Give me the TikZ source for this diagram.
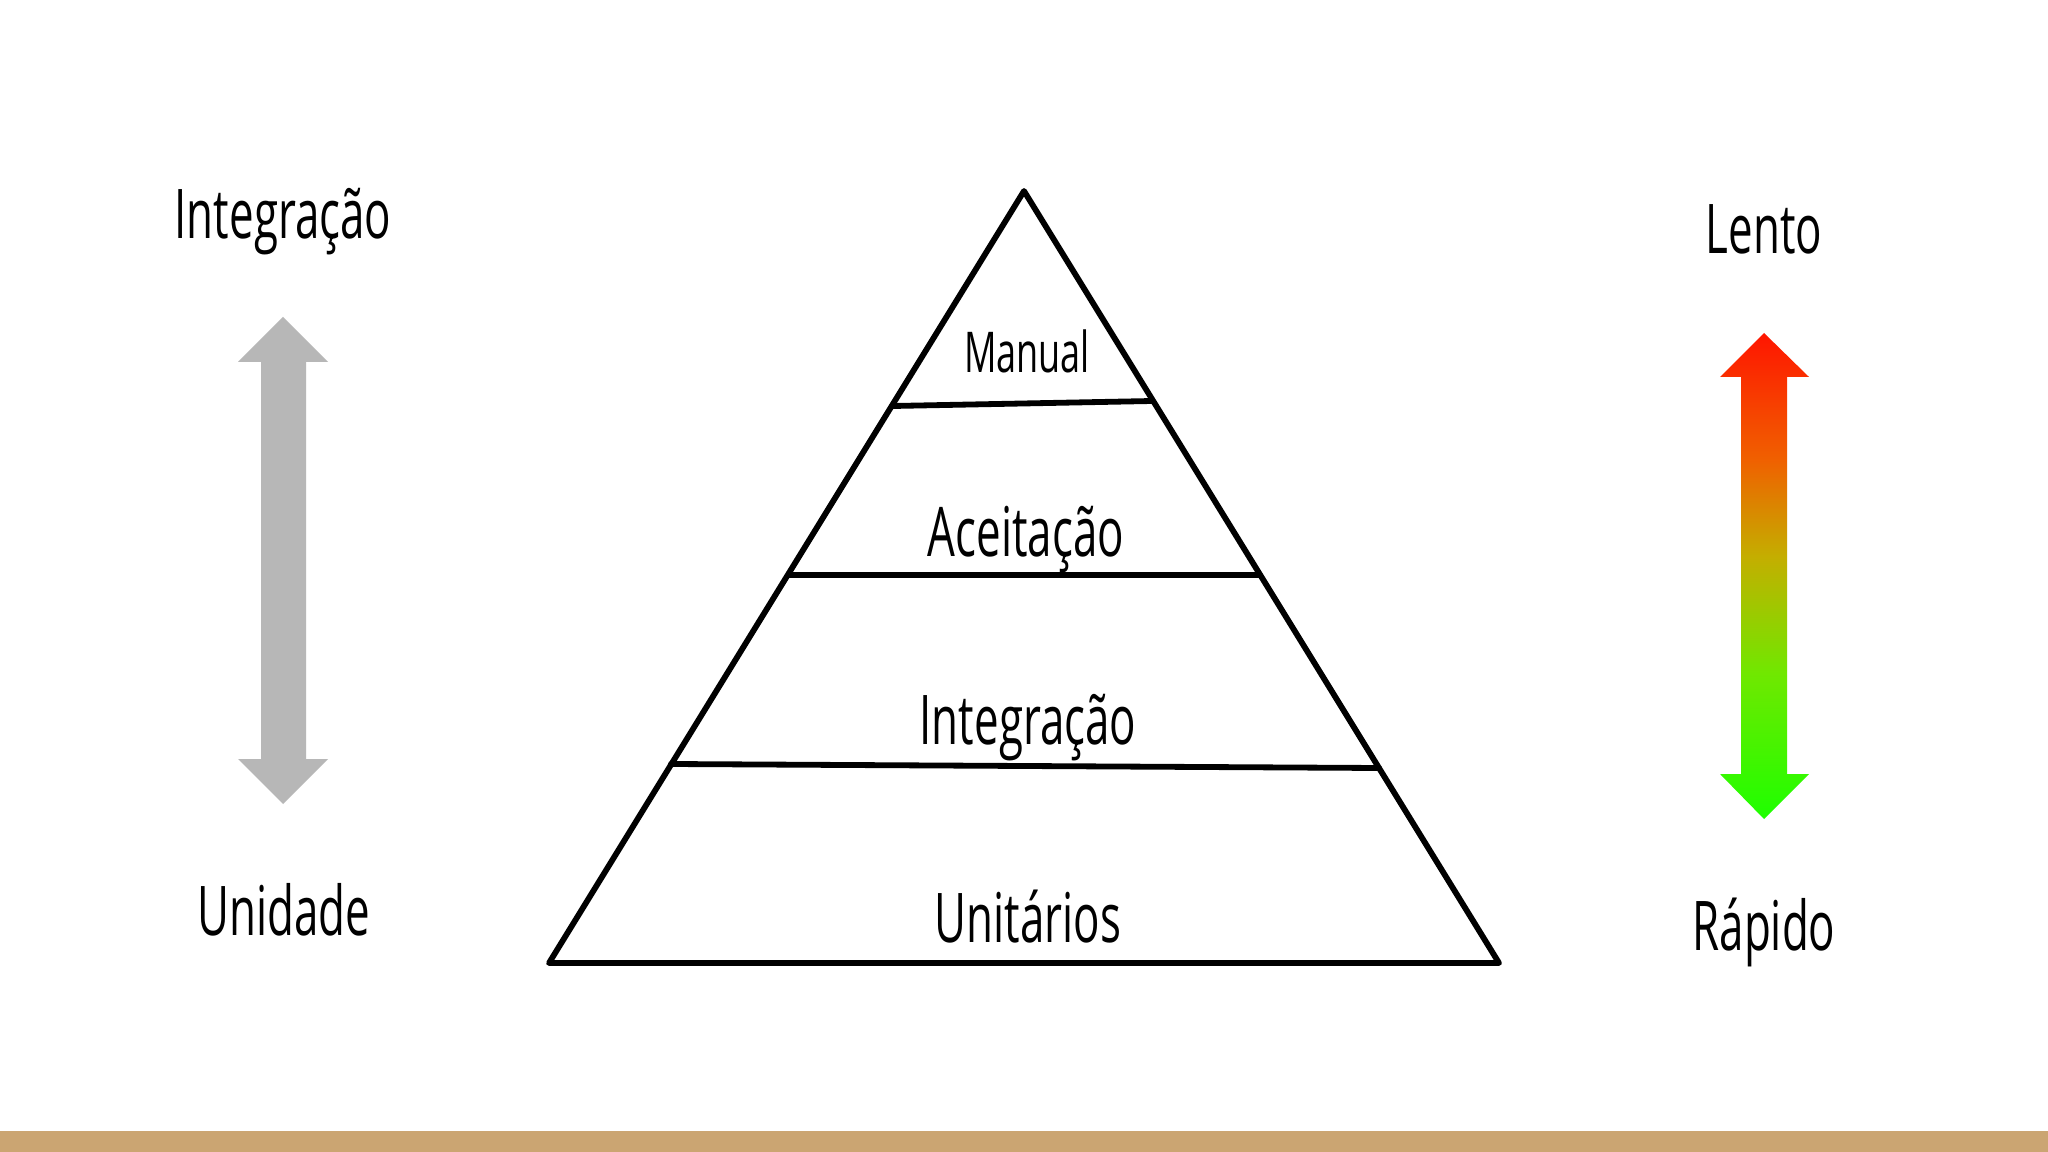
\documentclass[tikz,border=0pt]{standalone}
\usepackage{fontspec}
\newfontfamily\cond[FakeStretch=0.64]{Open Sans}
\definecolor{band}{HTML}{CBA572}
\definecolor{grayarrow}{HTML}{B7B7B7}
\definecolor{gA}{HTML}{1EFF00}
\definecolor{gB}{HTML}{70E800}
\definecolor{gC}{HTML}{C4AE00}
\definecolor{gD}{HTML}{F06000}
\definecolor{gE}{HTML}{FF1500}
\pgfdeclareverticalshading{speed}{100bp}{color(0bp)=(gA); color(25bp)=(gA); color(40bp)=(gB); color(52bp)=(gC); color(62bp)=(gD); color(75bp)=(gE); color(100bp)=(gE)}
\tikzset{
  lbl/.style={font=\cond\fontsize{19.5}{22}\selectfont, anchor=base, inner sep=0pt},
  lblsmall/.style={font=\cond\fontsize{16}{19}\selectfont, anchor=base, inner sep=0pt},
  pyr/.style={line width=0.058cm, line join=round, line cap=round, draw=black},
}
\begin{document}
\begin{tikzpicture}[x=0.01cm,y=-0.01cm]
\useasboundingbox (0,0) rectangle (2048,1152);
\fill[white] (0,0) rectangle (2048,1152);
% bottom band
\fill[band] (0,1131) rectangle (2048,1152);

% pyramid
\coordinate (apex) at (1024,191);
\coordinate (bl) at (549,963);
\coordinate (br) at (1499,963);
\coordinate (m1) at (893,406);
\coordinate (m2) at (1152,401);
\coordinate (a1) at (789,575);
\coordinate (a2) at (1259,575);
\coordinate (i1) at (671,764);
\coordinate (i2) at (1379,768);
\draw[pyr] (apex) -- (bl) -- (br) -- cycle;
\draw[pyr] (m1) -- (m2);
\draw[pyr] (a1) -- (a2);
\draw[pyr] (i1) -- (i2);

\node[lblsmall] (manual) at (1027,373) {Manual};
\node[lbl] (aceit) at (1026,557) {Aceitação};
\node[lbl] (integ) at (1028,744) {Integração};
\node[lbl] (unit) at (1028,942) {Unitários};

% left gray arrow
\fill[grayarrow] (283,317) -- (328,362) -- (306,362) -- (306,759) -- (328,759)
  -- (283,804) -- (238,759) -- (261,759) -- (261,362) -- (238,362) -- cycle;
\node[lbl] (lint) at (283,239) {Integração};
\node[lbl] (lunid) at (284,935) {Unidade};

% right gradient arrow
\shade[shading=speed] (1764,333) -- (1809,377) -- (1787,377) -- (1787,774) -- (1809,774)
  -- (1764,819) -- (1720,774) -- (1741,774) -- (1741,377) -- (1720,377) -- cycle;
\node[lbl] (lento) at (1764,254) {Lento};
\node[lbl] (rapido) at (1764,950) {Rápido};
\end{tikzpicture}
\end{document}
